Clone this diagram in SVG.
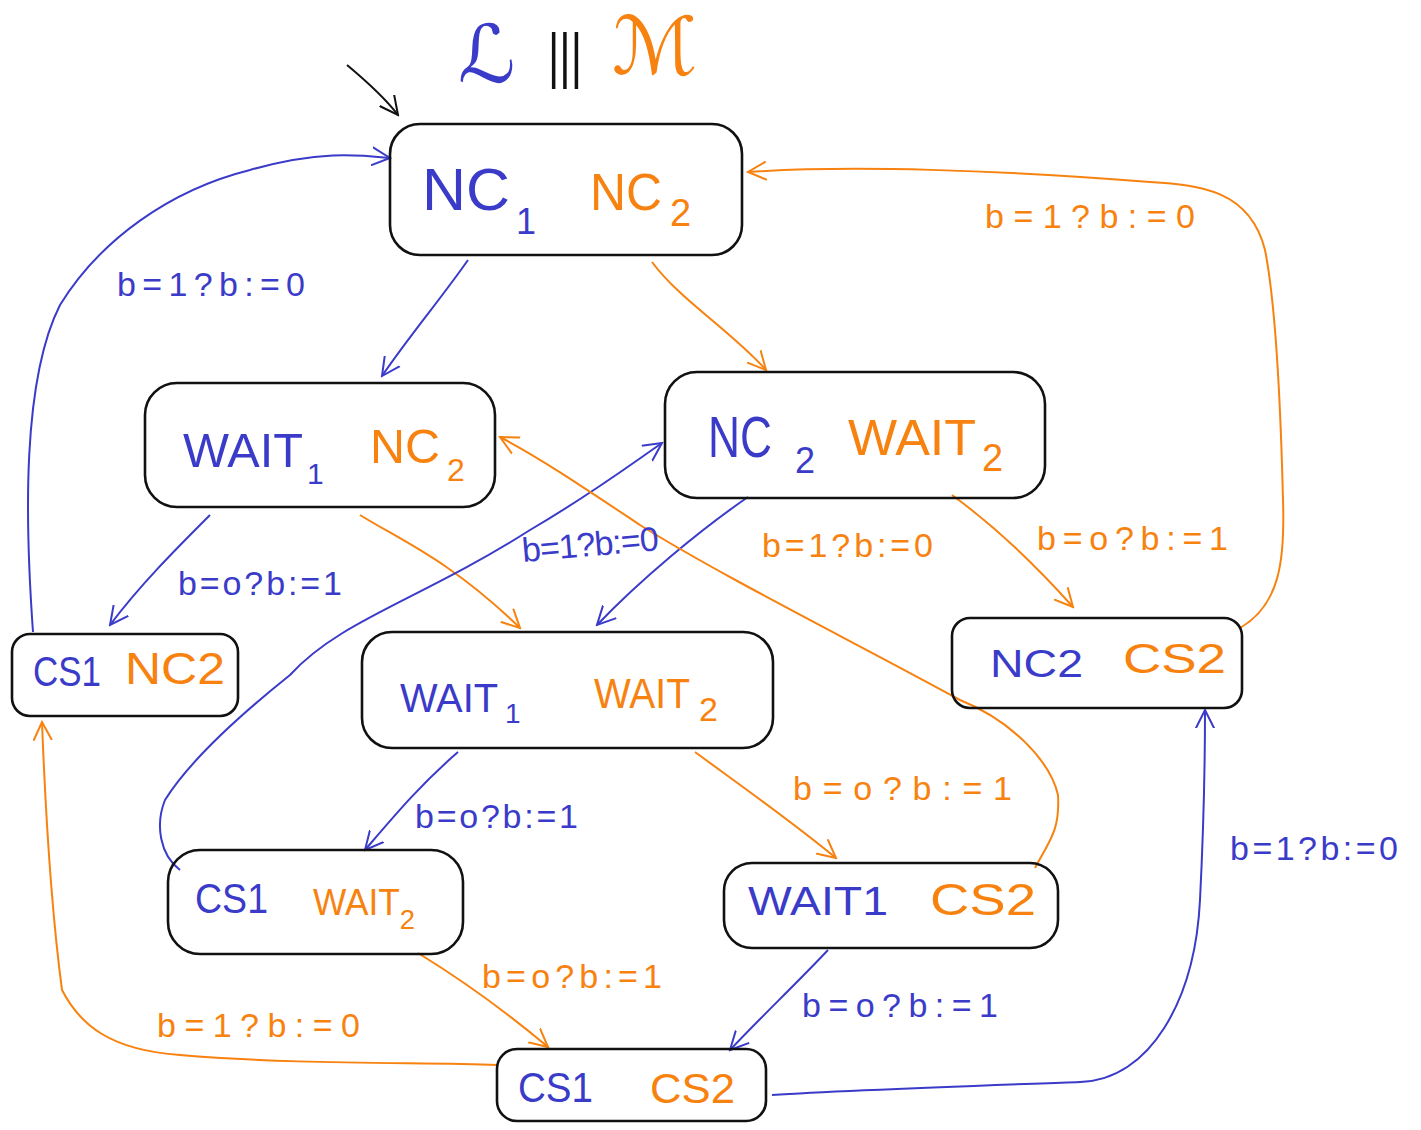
<svg xmlns="http://www.w3.org/2000/svg" width="1421" height="1130" viewBox="0 0 1421 1130">
<defs>
<marker id="ab" viewBox="0 0 12 12" refX="11" refY="6" markerWidth="20" markerHeight="20" markerUnits="userSpaceOnUse" orient="auto"><path d="M0,0.5 L11,6 L0,11.5" fill="none" stroke="#3b3bc9" stroke-width="1.2"/></marker>
<marker id="ao" viewBox="0 0 12 12" refX="11" refY="6" markerWidth="20" markerHeight="20" markerUnits="userSpaceOnUse" orient="auto"><path d="M0,0.5 L11,6 L0,11.5" fill="none" stroke="#f7820f" stroke-width="1.2"/></marker>
<marker id="ak" viewBox="0 0 12 12" refX="11" refY="6" markerWidth="20" markerHeight="20" markerUnits="userSpaceOnUse" orient="auto"><path d="M0,0.5 L11,6 L0,11.5" fill="none" stroke="#111" stroke-width="1.2"/></marker>
</defs>
<style>
.box{fill:none;stroke:#111;stroke-width:2.6}
.b{fill:#3b3bc9}
.o{fill:#f7820f}
text{font-family:"Liberation Sans","DejaVu Sans",sans-serif}
.eb{fill:none;stroke:#3b3bc9;stroke-width:2;marker-end:url(#ab)}
.eo{fill:none;stroke:#f7820f;stroke-width:2;marker-end:url(#ao)}
.lbl{font-size:34px}
</style>
<rect width="1421" height="1130" fill="#fff"/>

<g id="title">
<text x="458" y="82" font-size="80" class="b" font-family="DejaVu Serif, DejaVu Sans, serif" font-style="italic">ℒ</text>
<text x="548" y="76" font-size="62" fill="#111" textLength="34" lengthAdjust="spacingAndGlyphs">|||</text>
<text x="612" y="74" font-size="80" class="o" font-family="DejaVu Serif, DejaVu Sans, serif" font-style="italic">ℳ</text>
</g>

<g id="edges">
<path d="M347,65 C365,80 385,98 398,115" fill="none" stroke="#111" stroke-width="2" marker-end="url(#ak)"/>
<path class="eb" d="M468,260 C440,300 410,335 382,376"/>
<path class="eo" d="M652,262 C680,300 730,330 766,370"/>
<path class="eb" d="M33,632 C25,520 22,380 60,305 C100,240 170,190 250,170 C320,150 360,155 390,158"/>
<path class="eo" d="M1240,628 C1280,605 1285,560 1283,500 C1280,380 1275,300 1265,250 C1250,190 1200,185 1150,182 C1000,170 850,165 748,172"/>
<path class="eb" d="M210,515 C175,550 140,585 110,625"/>
<path class="eo" d="M360,515 C400,540 450,560 520,628"/>
<path class="eb" d="M748,497 C700,530 640,580 597,625"/>
<path class="eo" d="M952,495 C1000,530 1040,570 1073,607"/>
<path class="eb" d="M180,870 C160,855 155,825 165,800 C190,760 240,715 290,675 C340,620 420,600 530,530 C590,495 630,465 662,443"/>
<path class="eo" d="M1035,868 C1050,840 1060,830 1058,795 C1050,760 1010,720 960,700 C850,640 720,575 640,525 C580,485 540,458 500,437"/>
<path class="eb" d="M458,752 C420,785 395,815 365,850"/>
<path class="eo" d="M695,752 C740,785 790,820 836,858"/>
<path class="eo" d="M418,953 C470,985 510,1015 548,1047"/>
<path class="eb" d="M828,950 C795,985 760,1018 730,1050"/>
<path class="eo" d="M497,1065 C420,1062 300,1065 180,1055 C110,1050 80,1025 62,990 C50,900 45,800 42,722"/>
<path class="eb" d="M772,1095 C850,1090 1000,1085 1080,1082 C1150,1080 1195,1000 1200,900 C1205,800 1205,750 1205,710"/>
</g>

<g id="labels">
<text class="b lbl" x="117" y="296" font-size="36" textLength="188">b=1?b:=0</text>
<text class="o lbl" x="985" y="228" font-size="36" textLength="210">b=1?b:=0</text>
<text class="b lbl" x="178" y="595" font-size="32" textLength="164">b=o?b:=1</text>
<text class="b lbl" x="523" y="562" font-size="27" textLength="137" transform="rotate(-5 523 562)">b=1?b:=0</text>
<text class="o lbl" x="762" y="557" font-size="32" textLength="171">b=1?b:=0</text>
<text class="o lbl" x="1037" y="550" font-size="36" textLength="191">b=o?b:=1</text>
<text class="b lbl" x="415" y="828" font-size="30" textLength="163">b=o?b:=1</text>
<text class="o lbl" x="793" y="800" font-size="36" textLength="219">b=o?b:=1</text>
<text class="o lbl" x="482" y="988" font-size="34" textLength="180">b=o?b:=1</text>
<text class="b lbl" x="802" y="1017" font-size="34" textLength="196">b=o?b:=1</text>
<text class="o lbl" x="157" y="1037" font-size="36" textLength="203">b=1?b:=0</text>
<text class="b lbl" x="1230" y="860" font-size="32" textLength="168">b=1?b:=0</text>
</g>

<g id="n-nc1-nc2">
<rect class="box" x="390" y="124" width="352" height="131" rx="30"/>
<text class="b" x="422" y="210" font-size="60" textLength="88" lengthAdjust="spacingAndGlyphs">NC</text>
<text class="b" x="516" y="234" font-size="36">1</text>
<text class="o" x="590" y="210" font-size="52" textLength="72" lengthAdjust="spacingAndGlyphs">NC</text>
<text class="o" x="670" y="226" font-size="38">2</text>
</g>

<g id="n-wait1-nc2">
<rect class="box" x="145" y="383" width="350" height="124" rx="32"/>
<text class="b" x="183" y="467" font-size="48" textLength="120" lengthAdjust="spacingAndGlyphs">WAIT</text>
<text class="b" x="307" y="484" font-size="30">1</text>
<text class="o" x="370" y="463" font-size="48" textLength="70" lengthAdjust="spacingAndGlyphs">NC</text>
<text class="o" x="447" y="481" font-size="32">2</text>
</g>

<g id="n-nc2-wait2">
<rect class="box" x="665" y="372" width="380" height="126" rx="32"/>
<text class="b" x="708" y="457" font-size="58" textLength="64" lengthAdjust="spacingAndGlyphs">NC</text>
<text class="b" x="795" y="473" font-size="36">2</text>
<text class="o" x="848" y="455" font-size="50" textLength="128" lengthAdjust="spacingAndGlyphs">WAIT</text>
<text class="o" x="982" y="471" font-size="38">2</text>
</g>

<g id="n-cs1-nc2">
<rect class="box" x="12" y="634" width="226" height="82" rx="18"/>
<text class="b" x="33" y="686" font-size="42" textLength="68" lengthAdjust="spacingAndGlyphs">CS1</text>
<text class="o" x="125" y="684" font-size="44" textLength="100" lengthAdjust="spacingAndGlyphs">NC2</text>
</g>

<g id="n-wait1-wait2">
<rect class="box" x="362" y="632" width="411" height="116" rx="30"/>
<text class="b" x="400" y="712" font-size="40" textLength="98" lengthAdjust="spacingAndGlyphs">WAIT</text>
<text class="b" x="505" y="723" font-size="28">1</text>
<text class="o" x="594" y="708" font-size="42" textLength="96" lengthAdjust="spacingAndGlyphs">WAIT</text>
<text class="o" x="699" y="721" font-size="34">2</text>
</g>

<g id="n-cs1-wait2">
<rect class="box" x="168" y="850" width="295" height="104" rx="32"/>
<text class="b" x="195" y="913" font-size="42" textLength="73" lengthAdjust="spacingAndGlyphs">CS1</text>
<text class="o" x="313" y="915" font-size="36" textLength="102" lengthAdjust="spacingAndGlyphs">WAIT<tspan dy="14" font-size="28">2</tspan></text>
</g>

<g id="n-nc2-cs2">
<rect class="box" x="952" y="618" width="290" height="90" rx="18"/>
<text class="b" x="990" y="677" font-size="38" textLength="93" lengthAdjust="spacingAndGlyphs">NC2</text>
<text class="o" x="1123" y="673" font-size="42" textLength="103" lengthAdjust="spacingAndGlyphs">CS2</text>
</g>

<g id="n-wait1-cs2">
<rect class="box" x="724" y="863" width="334" height="85" rx="28"/>
<text class="b" x="748" y="915" font-size="40" textLength="140" lengthAdjust="spacingAndGlyphs">WAIT1</text>
<text class="o" x="930" y="915" font-size="44" textLength="106" lengthAdjust="spacingAndGlyphs">CS2</text>
</g>

<g id="n-cs1-cs2">
<rect class="box" x="497" y="1049" width="269" height="72" rx="20"/>
<text class="b" x="518" y="1102" font-size="42" textLength="75" lengthAdjust="spacingAndGlyphs">CS1</text>
<text class="o" x="650" y="1103" font-size="42" textLength="85" lengthAdjust="spacingAndGlyphs">CS2</text>
</g>
</svg>
